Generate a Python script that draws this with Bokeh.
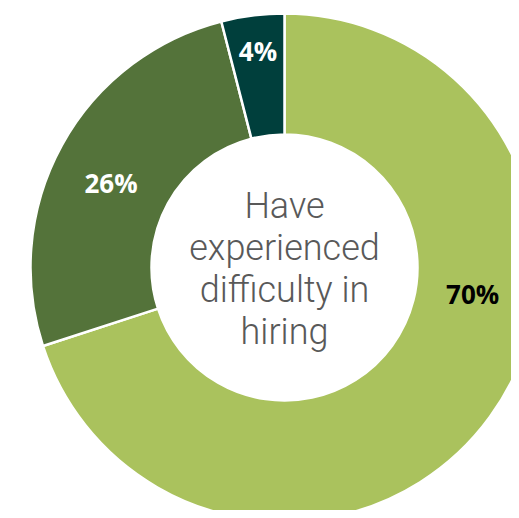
import numpy as np
from bokeh.plotting import figure
from bokeh.models import ColumnDataSource, Range1d
from bokeh.core.properties import value
from bokeh.embed import file_html
from bokeh.resources import INLINE

# Data
categories = ["Yes", "No", "Unsure"]
shares = [70, 26, 4]
labels = ["70%", "26%", "4%"]
colors = ["#AAC25D", "#54733A", "#003F3C"]
label_colors = ["#000000", "#FFFFFF", "#FFFFFF"]
center_lines = ["Have", "experienced", "difficulty in", "hiring"]

# Layout (pixel-like data units)
W, H = 511, 510
cx, cy = 284, 243
r_out, r_in = 254, 133
label_angle_deg = [-8, 154, 97]
label_radius = [190, 193, 218]

vals = np.array(shares, dtype=float)
frac = vals / vals.sum()
ends = np.pi / 2 - 2 * np.pi * np.cumsum(frac)
starts = np.concatenate([[np.pi / 2], ends[:-1]])

src = ColumnDataSource(dict(cat=categories, start=ends, end=starts, color=colors))

p = figure(width=W, height=H, output_backend="svg", toolbar_location=None,
           x_range=Range1d(0, W), y_range=Range1d(0, H), min_border=0)
p.axis.visible = False
p.grid.visible = False
p.outline_line_color = None
p.background_fill_color = "white"

p.annular_wedge(x=cx, y=cy, inner_radius=r_in, outer_radius=r_out,
                start_angle="start", end_angle="end", color="color",
                line_color="white", line_width=2.5, source=src)

la = np.deg2rad(label_angle_deg)
lx = cx + np.array(label_radius) * np.cos(la)
ly = cy + np.array(label_radius) * np.sin(la)
lsrc = ColumnDataSource(dict(x=lx, y=ly, t=labels, c=label_colors))
p.text(x="x", y="y", text="t", text_color="c", source=lsrc,
       text_font=value("Open Sans"), text_font_style="bold",
       text_font_size="26px", text_align="center", text_baseline="middle")

n = len(center_lines)
line_h = 42
ty = [cy + 62 - line_h * i for i in range(n)]
tsrc = ColumnDataSource(dict(x=[cx] * n, y=ty, t=center_lines))
p.text(x="x", y="y", text="t", source=tsrc, text_color="#595959",
       text_font=value("Roboto Light"), text_font_size="36px",
       text_align="center", text_baseline="alphabetic")

open("out.html", "w").write(file_html(p, INLINE))
